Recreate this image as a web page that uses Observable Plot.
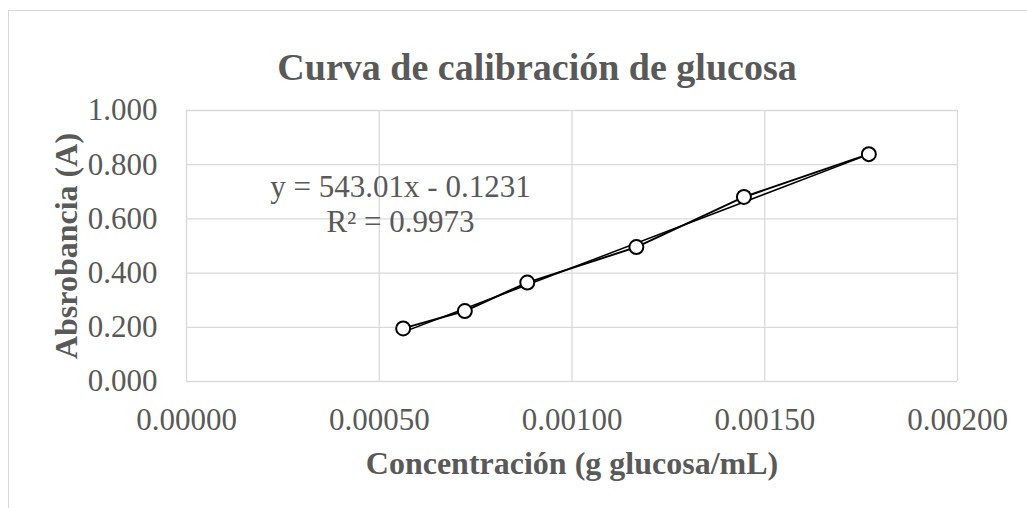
<!DOCTYPE html>
<html>
<head>
<meta charset="utf-8">
<script src="https://cdn.jsdelivr.net/npm/d3@7"></script>
<script src="https://cdn.jsdelivr.net/npm/@observablehq/plot@0.6"></script>
<style>
  html, body { margin: 0; padding: 0; background: #fff; overflow: hidden; }
  #wrap { position: relative; width: 1027px; height: 508px; overflow: hidden; }
  #frame { position: absolute; left: 8px; top: 10px; width: 1100px; height: 600px;
           border: 1.3px solid #d9d9d9; box-sizing: border-box; }
  #chart { position: absolute; left: 0; top: 0; }
  #chart svg, #chart svg text { font-family: "Liberation Serif", "Times New Roman", serif !important; }
</style>
</head>
<body>
<div id="wrap"><div id="frame"></div><div id="chart"></div></div>
<script>
// Data
const concentracion = [0.000562, 0.000722, 0.000884, 0.001167, 0.001446, 0.001770];
const absorbancia   = [0.196, 0.260, 0.365, 0.496, 0.681, 0.839];
const xTicks = [0, 0.0005, 0.001, 0.0015, 0.002];
const yTicks = [0, 0.2, 0.4, 0.6, 0.8, 1.0];
const slope = 543.01;
const intercept = -0.1231;
const r2 = 0.9973;
const titleText = "Curva de calibración de glucosa";
const xLabel = "Concentración (g glucosa/mL)";
const yLabel = "Absrobancia (A)";
const eqText = "y = 543.01x - 0.1231\nR² = 0.9973";

const points = concentracion.map((x, i) => ({x, y: absorbancia[i]}));
const xExt = d3.extent(concentracion);
const trend = xExt.map(x => ({x, y: slope * x + intercept}));

const gray = "#595959";
const grid = "#d9d9d9";
const serif = "'Liberation Serif', 'Times New Roman', serif";

const chart = Plot.plot({
  width: 1027,
  height: 508,
  marginLeft: 186,
  marginRight: 70,
  marginTop: 110,
  marginBottom: 127,
  style: {fontFamily: serif, background: "transparent", color: gray},
  x: {domain: [0, 0.002]},
  y: {domain: [0, 1]},
  marks: [
    Plot.gridX(xTicks, {stroke: grid, strokeOpacity: 1, strokeWidth: 1.3}),
    Plot.gridY(yTicks, {stroke: grid, strokeOpacity: 1, strokeWidth: 1.3}),
    Plot.axisX({ticks: xTicks, tickFormat: d3.format(".5f"), tickSize: 0, tickPadding: 26, fontSize: 31, fontFamily: serif, fill: gray, label: null}),
    Plot.axisY({ticks: yTicks, tickFormat: d3.format(".3f"), tickSize: 0, tickPadding: 29, fontSize: 31, fontFamily: serif, fill: gray, label: null}),
    Plot.line(trend, {x: "x", y: "y", stroke: "black", strokeWidth: 1.5}),
    Plot.line(points, {x: "x", y: "y", stroke: "black", strokeWidth: 2}),
    Plot.dot(points, {x: "x", y: "y", r: 7, stroke: "black", strokeWidth: 2, fill: "white"}),
    Plot.text([eqText], {frameAnchor: "top-left", textAnchor: "middle", lineAnchor: "top", lineHeight: 1.13, dx: 214, dy: 62, fontSize: 31, fontFamily: serif, fill: gray}),
    Plot.text([titleText], {frameAnchor: "top", textAnchor: "middle", lineAnchor: "bottom", dx: -35, dy: -31, fontSize: 38, fontWeight: "bold", fontFamily: serif, fill: gray}),
    Plot.text([xLabel], {frameAnchor: "bottom", textAnchor: "middle", lineAnchor: "bottom", dy: 92, fontSize: 32, fontWeight: "bold", fontFamily: serif, fill: gray}),
    Plot.text([yLabel], {frameAnchor: "left", textAnchor: "middle", lineAnchor: "bottom", rotate: -90, dx: -110, fontSize: 32, fontWeight: "bold", fontFamily: serif, fill: gray})
  ]
});
document.getElementById("chart").appendChild(chart);
</script>
</body>
</html>
